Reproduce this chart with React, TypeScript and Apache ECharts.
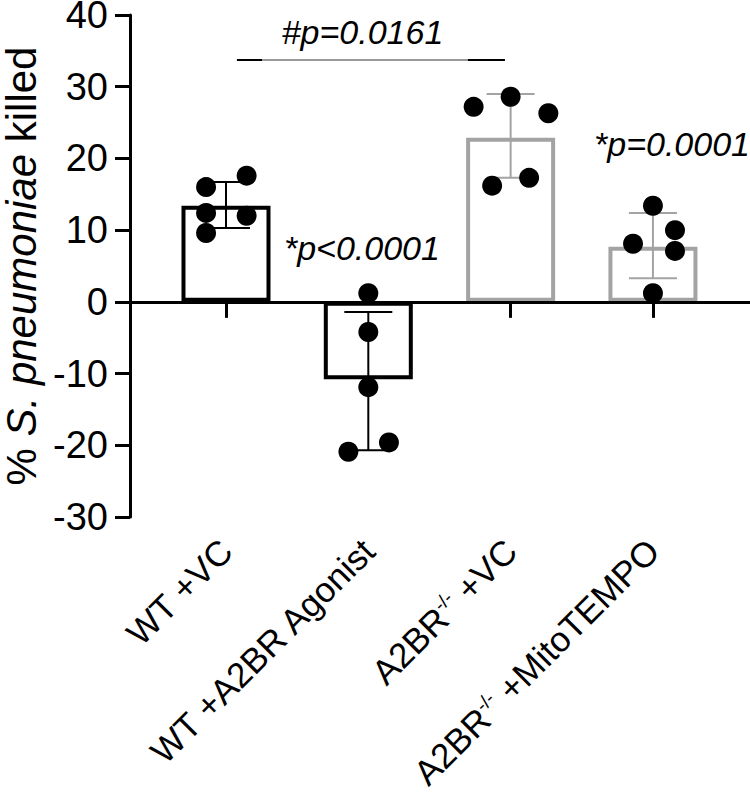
import React, { useEffect, useRef } from "react";
import * as echarts from "echarts";

const categories = ["WT +VC", "WT +A2BR Agonist", "A2BR-/- +VC", "A2BR-/- +MitoTEMPO"];
const categoryRich = [
  "WT +VC",
  "WT +A2BR Agonist",
  "{t|A2BR}{s|-/-}{t| +VC}",
  "{t|A2BR}{s|-/-}{t| +MitoTEMPO}",
];
const means = [13.4, -10.8, 22.9, 7.7];
const errLow = [10.3, -20.7, 17.3, 3.3];
const errHigh = [16.7, -1.4, 29.0, 12.4];
const points = [
  [16.0, 12.4, 9.6, 17.6, 12.0],
  [1.2, -4.2, -11.9, -20.9, -19.6],
  [27.2, 28.6, 26.3, 16.2, 17.3],
  [13.4, 10.0, 8.1, 7.1, 1.2],
];
const jitter = [
  [-0.14, -0.14, -0.14, 0.145, 0.145],
  [0, 0, 0, -0.14, 0.145],
  [-0.26, 0, 0.265, -0.13, 0.13],
  [0, 0.155, -0.14, 0.155, 0],
];
const yTicks = [-30, -20, -10, 0, 10, 20, 30, 40];
const bracketX = [0.077, 1.96];
const bracketY = 33.7;
const bracketBlackEnds = [
  [0.077, 0.253],
  [1.7, 1.96],
];
const annotations = [
  { x: 0.959, y: 37.6, text: "#p=0.0161" },
  { x: 0.955, y: 7.5, text: "*p<0.0001" },
  { x: 3.134, y: 22.0, text: "*p=0.0001" },
];

const BLACK = "#000000";
const GRAY = "#a3a3a3";
const barColors = [BLACK, BLACK, GRAY, GRAY];
const FONT = "Liberation Sans, Arial, sans-serif";

export default function App() {
  const ref = useRef<HTMLDivElement>(null);
  useEffect(() => {
    document.body.style.margin = "0";
    const chart = echarts.init(ref.current!, null, { renderer: "svg" });

    const barData = means.map((m, i) => ({
      value: [i, m],
      itemStyle: { color: "#ffffff", borderColor: barColors[i], borderWidth: 4 },
    }));
    const errData = means.map((_, i) => [i, errLow[i], errHigh[i]]);
    const scatterData: number[][] = [];
    points.forEach((grp, g) =>
      grp.forEach((v, k) => scatterData.push([g + jitter[g][k], v]))
    );

    const option: any = {
      animation: false,
      grid: {
        left: 130,
        right: 0,
        top: 15,
        bottom: 281,
        containLabel: false,
        outerBoundsMode: "none",
      },
      xAxis: {
        type: "value",
        min: -0.6745,
        max: 3.682,
        splitLine: { show: false },
        axisLine: { show: true, lineStyle: { color: BLACK, width: 3 } },
        axisTick: {
          show: true,
          customValues: [0, 1, 2, 3],
          length: 16,
          lineStyle: { color: BLACK, width: 3 },
        },
        axisLabel: {
          show: true,
          customValues: [0, 1, 2, 3],
          rotate: 45,
          margin: 28,
          fontSize: 35,
          fontFamily: FONT,
          color: BLACK,
          formatter: (v: number) => categoryRich[Math.round(v)] ?? "",
          rich: {
            t: { fontSize: 35, fontFamily: FONT, color: BLACK },
            s: { fontSize: 19, fontFamily: FONT, color: BLACK, verticalAlign: "top" },
          },
        },
      },
      yAxis: {
        type: "value",
        min: yTicks[0],
        max: yTicks[yTicks.length - 1],
        interval: 10,
        splitLine: { show: false },
        axisLine: { show: true, onZero: false, lineStyle: { color: BLACK, width: 3 } },
        axisTick: { show: true, length: 15, lineStyle: { color: BLACK, width: 3 } },
        axisLabel: { margin: 22, fontSize: 38, fontFamily: FONT, color: BLACK },
        name: "% {i|S. pneumoniae} killed",
        nameLocation: "middle",
        nameGap: 86,
        nameTextStyle: {
          fontSize: 42,
          lineHeight: 42,
          fontFamily: FONT,
          color: BLACK,
          rich: {
            i: { fontSize: 42, lineHeight: 42, fontFamily: FONT, fontStyle: "italic", color: BLACK },
          },
        },
      },
      series: [
        {
          type: "bar",
          data: barData,
          barWidth: 89,
          z: 2,
          markLine: {
            silent: true,
            symbol: "none",
            label: { show: false },
            data: [
              { yAxis: 0, lineStyle: { color: BLACK, width: 3, type: "solid" } },
              [
                { coord: [bracketX[0], bracketY], lineStyle: { color: "#999999", width: 2, type: "solid" } },
                { coord: [bracketX[1], bracketY] },
              ],
              ...bracketBlackEnds.map((e) => [
                { coord: [e[0], bracketY], lineStyle: { color: BLACK, width: 2, type: "solid" } },
                { coord: [e[1], bracketY] },
              ]),
            ],
          },
        },
        {
          type: "custom",
          data: errData,
          z: 4,
          renderItem: (params: any, api: any) => {
            const x = api.value(0);
            const lo = api.coord([x, api.value(1)]);
            const hi = api.coord([x, api.value(2)]);
            const c = barColors[params.dataIndex];
            const half = 24;
            const st = { stroke: c, lineWidth: 2 };
            return {
              type: "group",
              children: [
                { type: "line", shape: { x1: lo[0], y1: lo[1], x2: hi[0], y2: hi[1] }, style: st },
                { type: "line", shape: { x1: lo[0] - half, y1: lo[1], x2: lo[0] + half, y2: lo[1] }, style: st },
                { type: "line", shape: { x1: hi[0] - half, y1: hi[1], x2: hi[0] + half, y2: hi[1] }, style: st },
              ],
            };
          },
        },
        {
          type: "scatter",
          data: scatterData,
          symbol: "circle",
          symbolSize: 20,
          itemStyle: { color: BLACK, opacity: 1 },
          z: 6,
        },
        {
          type: "scatter",
          data: annotations.map((a) => ({ value: [a.x, a.y], name: a.text })),
          symbolSize: 0,
          z: 7,
          itemStyle: { opacity: 1 },
          label: {
            show: true,
            position: "inside",
            formatter: "{b}",
            fontSize: 34,
            fontStyle: "italic",
            fontFamily: FONT,
            color: BLACK,
            opacity: 1,
          },
        },
      ],
    };
    chart.setOption(option);
    return () => chart.dispose();
  }, []);
  return (
    <div
      ref={ref}
      style={{ position: "absolute", left: 0, top: 0, width: 750, height: 798 }}
    />
  );
}
